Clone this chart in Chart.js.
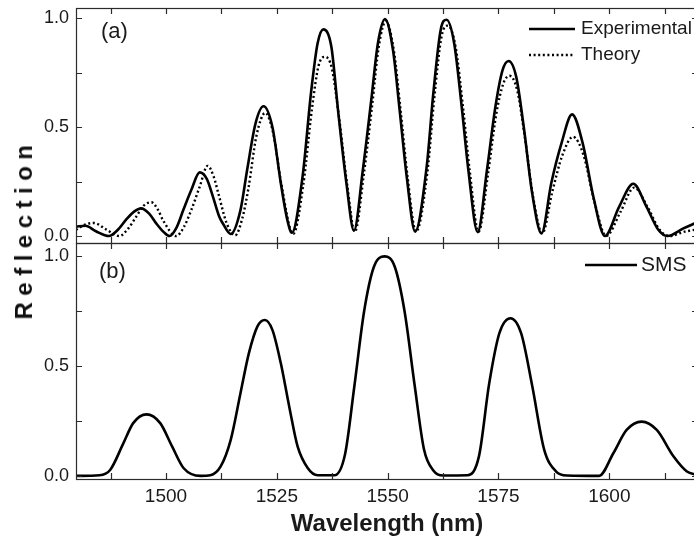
<!DOCTYPE html>
<html>
<head>
<meta charset="utf-8">
<script src="https://cdn.jsdelivr.net/npm/chart.js@4.4.1/dist/chart.umd.min.js"></script>
<style>
  html, body { margin: 0; padding: 0; background: #fff; overflow: hidden; }
  #wrap { position: relative; width: 694px; height: 540px; overflow: hidden; }
  canvas { position: absolute; left: 0; }
  #topChart { top: 0; }
  #bottomChart { top: 235px; }
  #ytitle {
    position: absolute; left: 24px; top: 229px;
    transform: translate(-50%, -50%) rotate(-90deg);
    font: bold 24px "Liberation Sans", Arial, sans-serif;
    letter-spacing: 6.5px; white-space: nowrap; color: #111;
  }
</style>
</head>
<body>
<div id="wrap">
  <canvas id="topChart" width="700" height="250"></canvas>
  <canvas id="bottomChart" width="700" height="305"></canvas>
  <div id="ytitle">Reflection</div>
</div>
<script>
// eixos
const xMin = 1479.7, xMax = 1620;
const xTickValues = [1487.5, 1500, 1512.5, 1525, 1537.5, 1550, 1562.5, 1575, 1587.5, 1600, 1612.5];
const xLabelValues = [1500, 1525, 1550, 1575, 1600];
const yTickValues = [0, 0.25, 0.5, 0.75, 1.0];
const yLabelValues = [0, 0.5, 1.0];

// (a) experimental
const expWavelength = [1479.7, 1481.8, 1484.2, 1487.1, 1489.2, 1491.0, 1492.8, 1494.4, 1496.2, 1497.8, 1499.5, 1500.8,
  1502.4, 1503.9, 1505.7, 1507.6, 1509.2, 1510.6, 1512.0, 1512.9, 1514.6, 1516.8, 1518.3, 1520.2, 1522.0, 1524.0,
  1525.9, 1527.3, 1528.4, 1530.8, 1532.7, 1534.2, 1535.5, 1537.3, 1538.8, 1540.7, 1542.4, 1544.4, 1546.3, 1547.8,
  1549.4, 1551.2, 1552.7, 1554.3, 1556.2, 1558.8, 1560.3, 1562.0, 1563.3, 1565.0, 1566.7, 1568.2, 1570.3, 1572.4,
  1574.3, 1575.9, 1577.3, 1579.0, 1580.7, 1582.6, 1584.7, 1586.9, 1589.2, 1591.6, 1594.0, 1596.4, 1599.0, 1602.2,
  1605.4, 1608.4, 1611.0, 1613.1, 1616.7, 1619.7];
const expReflection = [0.043, 0.047, 0.022, 0.0, 0.03, 0.075, 0.112, 0.127, 0.103, 0.058, 0.018, 0.0,
  0.04, 0.119, 0.211, 0.292, 0.262, 0.18, 0.09, 0.055, 0.009, 0.119, 0.303, 0.517, 0.595, 0.5,
  0.242, 0.08, 0.015, 0.272, 0.655, 0.884, 0.948, 0.868, 0.578, 0.242, 0.024, 0.303, 0.624, 0.884,
  0.995, 0.853, 0.578, 0.272, 0.02, 0.318, 0.655, 0.95, 0.992, 0.884, 0.593, 0.303, 0.018, 0.303,
  0.593, 0.76, 0.803, 0.73, 0.5, 0.196, 0.012, 0.242, 0.425, 0.558, 0.425, 0.18, 0.0, 0.134,
  0.24, 0.134, 0.03, 0.0, 0.035, 0.062];

// (a) teoria
const theoryWavelength = [1479.7, 1481.5, 1483.8, 1486.5, 1489.5, 1491.5, 1493.3, 1495.0, 1496.7, 1498.2, 1499.3, 1502.3,
  1504.0, 1505.7, 1507.6, 1509.4, 1510.8, 1511.8, 1513.7, 1515.6, 1517.2, 1518.6, 1520.4, 1522.4, 1524.2, 1526.0,
  1528.7, 1531.0, 1532.9, 1534.4, 1535.9, 1537.4, 1539.0, 1540.9, 1542.6, 1544.6, 1546.5, 1548.0, 1549.6, 1551.4,
  1552.9, 1554.5, 1556.4, 1559.0, 1560.5, 1562.2, 1563.6, 1565.3, 1567.0, 1568.5, 1570.5, 1572.6, 1574.5, 1576.1,
  1577.5, 1579.2, 1580.9, 1582.8, 1584.9, 1587.1, 1589.4, 1591.8, 1594.2, 1596.6, 1599.3, 1602.5, 1605.6, 1608.7,
  1611.3, 1613.6, 1617.0, 1619.7];
const theoryReflection = [0.028, 0.05, 0.06, 0.03, 0.0, 0.035, 0.089, 0.14, 0.155, 0.12, 0.073, 0.0,
  0.04, 0.119, 0.226, 0.322, 0.27, 0.196, 0.058, 0.003, 0.08, 0.22, 0.46, 0.565, 0.47, 0.24,
  0.01, 0.24, 0.58, 0.78, 0.822, 0.77, 0.55, 0.23, 0.02, 0.28, 0.6, 0.87, 0.985, 0.85,
  0.58, 0.27, 0.02, 0.3, 0.63, 0.92, 0.965, 0.87, 0.59, 0.3, 0.02, 0.28, 0.56, 0.70,
  0.735, 0.67, 0.46, 0.18, 0.012, 0.2, 0.37, 0.455, 0.37, 0.16, 0.0, 0.11, 0.222, 0.13,
  0.03, 0.0, 0.02, 0.03];

// (b) SMS
const smsWavelength = [1479.7, 1485.0, 1487.4, 1490.4, 1492.6, 1495.6, 1498.7, 1501.4, 1504.0, 1507.8,
  1510.0, 1512.3, 1514.6, 1516.8, 1518.7, 1520.6, 1522.3, 1524.0, 1525.9, 1527.8, 1529.7, 1532.0, 1534.2,
  1538.0, 1540.4, 1542.5, 1544.7, 1546.9, 1549.3, 1551.6, 1553.8, 1556.1, 1558.2, 1560.3, 1562.5,
  1568.0, 1570.6, 1572.9, 1575.2, 1577.7, 1580.1, 1582.6, 1585.3, 1588.0, 1590.5,
  1597.7, 1600.9, 1603.9, 1607.3, 1610.7, 1614.5, 1617.5, 1619.7];
const smsReflection = [0.0, 0.003, 0.027, 0.149, 0.24, 0.28, 0.24, 0.133, 0.035, 0.0,
  0.003, 0.042, 0.164, 0.376, 0.558, 0.679, 0.709, 0.664, 0.512, 0.315, 0.133, 0.035, 0.003,
  0.003, 0.1, 0.41, 0.75, 0.951, 0.998, 0.951, 0.75, 0.41, 0.12, 0.025, 0.002,
  0.003, 0.09, 0.42, 0.649, 0.717, 0.649, 0.41, 0.12, 0.02, 0.002,
  0.0, 0.103, 0.209, 0.247, 0.209, 0.088, 0.02, 0.005];

const FONT = '"Liberation Sans", Arial, sans-serif';
const INK = '#1a1a1a';
const TICK = 6;
const DOTS = [2, 2.6];

function toPoints(xs, ys) {
  return xs.map((x, i) => ({ x: x, y: ys[i] }));
}

// moldura, ticks internos, rotulo do painel e legenda
const panelDecor = {
  id: 'panelDecor',
  afterDraw(chart, args, opts) {
    const { ctx, chartArea: a, scales: { x, y } } = chart;
    ctx.save();
    ctx.strokeStyle = '#2b2b2b';
    ctx.lineWidth = 1.2;
    ctx.strokeRect(a.left + 0.5, a.top + 0.5, a.right - a.left, a.bottom - a.top);
    ctx.beginPath();
    x.ticks.forEach(t => {
      const px = Math.round(x.getPixelForValue(t.value)) + 0.5;
      ctx.moveTo(px, a.bottom); ctx.lineTo(px, a.bottom - TICK);
      ctx.moveTo(px, a.top); ctx.lineTo(px, a.top + TICK);
    });
    y.ticks.forEach(t => {
      const py = Math.round(y.getPixelForValue(t.value)) + 0.5;
      ctx.moveTo(a.left, py); ctx.lineTo(a.left + TICK, py);
      ctx.moveTo(a.right, py); ctx.lineTo(a.right - TICK, py);
    });
    ctx.stroke();

    ctx.fillStyle = INK;
    ctx.textBaseline = 'middle';
    ctx.font = '22px ' + FONT;
    ctx.fillText(opts.tag, a.left + opts.tagX, a.top + opts.tagY);

    opts.legend.forEach((item, i) => {
      const ds = chart.data.datasets[item.index];
      const ly = a.top + opts.legendY + i * opts.legendGap;
      ctx.beginPath();
      ctx.lineWidth = ds.borderWidth;
      ctx.strokeStyle = ds.borderColor;
      ctx.setLineDash(ds.borderDash || []);
      ctx.moveTo(opts.lineX0, ly);
      ctx.lineTo(opts.lineX1, ly);
      ctx.stroke();
      ctx.setLineDash([]);
      ctx.font = opts.legendFont + 'px ' + FONT;
      ctx.fillText(ds.label, opts.textX, ly);
    });
    ctx.restore();
  }
};

function yScale(min, max) {
  return {
    type: 'linear', min: min, max: max,
    grid: { display: false, drawTicks: false },
    border: { display: false },
    afterBuildTicks: s => { s.ticks = yTickValues.map(v => ({ value: v })); },
    afterFit: s => { s.width = 76; s.paddingTop = 0; s.paddingBottom = 0; },
    ticks: {
      padding: 7, color: INK, font: { family: FONT, size: 18 },
      callback: v => yLabelValues.includes(v) ? v.toFixed(1) : ''
    }
  };
}

function xScale(showLabels, height) {
  return {
    type: 'linear', min: xMin, max: xMax,
    grid: { display: false, drawTicks: false },
    border: { display: false },
    afterBuildTicks: s => { s.ticks = xTickValues.map(v => ({ value: v })); },
    afterFit: s => { s.height = height; s.paddingLeft = 0; s.paddingRight = 0; },
    ticks: {
      display: showLabels, autoSkip: false, maxRotation: 0, padding: 6,
      color: INK, font: { family: FONT, size: 19 },
      callback: v => xLabelValues.includes(v) ? String(v) : ''
    },
    title: {
      display: showLabels, text: 'Wavelength (nm)', color: INK,
      font: { family: FONT, size: 24, weight: 'bold' },
      padding: { top: 0, bottom: 1 }
    }
  };
}

const lineBase = {
  borderColor: '#000', pointRadius: 0, cubicInterpolationMode: 'monotone', fill: false
};

new Chart(document.getElementById('topChart'), {
  type: 'line',
  data: {
    datasets: [
      Object.assign({ label: 'Experimental', data: toPoints(expWavelength, expReflection), borderWidth: 2.6 }, lineBase),
      Object.assign({ label: 'Theory', data: toPoints(theoryWavelength, theoryReflection), borderWidth: 2.4, borderDash: DOTS }, lineBase)
    ]
  },
  options: {
    responsive: false, animation: false,
    layout: { padding: { top: 8, right: 2, left: 0, bottom: 0 } },
    scales: { x: xScale(false, 7), y: yScale(-0.032, 1.046) },
    plugins: {
      legend: { display: false }, tooltip: { enabled: false },
      panelDecor: {
        tag: '(a)', tagX: 25, tagY: 24,
        legend: [{ index: 0 }, { index: 1 }],
        lineX0: 529, lineX1: 575, textX: 581, legendY: 21, legendGap: 26, legendFont: 19
      }
    }
  },
  plugins: [panelDecor]
});

new Chart(document.getElementById('bottomChart'), {
  type: 'line',
  data: {
    datasets: [
      Object.assign({ label: 'SMS', data: toPoints(smsWavelength, smsReflection), borderWidth: 2.6 }, lineBase)
    ]
  },
  options: {
    responsive: false, animation: false,
    layout: { padding: { top: 8, right: 2, left: 0, bottom: 0 } },
    scales: { x: xScale(true, 61), y: yScale(-0.014, 1.059) },
    plugins: {
      legend: { display: false }, tooltip: { enabled: false },
      panelDecor: {
        tag: '(b)', tagX: 23, tagY: 29,
        legend: [{ index: 0 }],
        lineX0: 585, lineX1: 637, textX: 641, legendY: 22, legendGap: 26, legendFont: 21
      }
    }
  },
  plugins: [panelDecor]
});
</script>
</body>
</html>
